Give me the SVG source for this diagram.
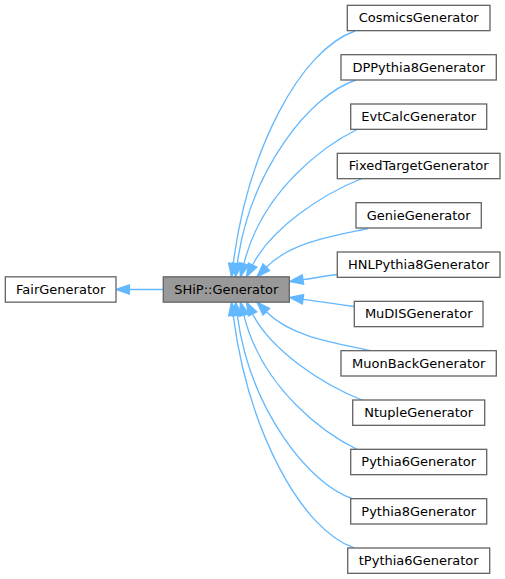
<svg xmlns="http://www.w3.org/2000/svg" width="505" height="579" viewBox="0 0 505 579">
<style>
.n rect{fill:#ffffff;stroke:#666666;stroke-width:1.33}
.n.cur rect{fill:#999999}
.n text{font-family:"DejaVu Sans","Liberation Sans",sans-serif;font-size:13px;fill:#000000;text-anchor:middle}
.e path{fill:none;stroke:#63b8ff;stroke-width:1.33}
.e polygon{fill:#63b8ff;stroke:#63b8ff;stroke-width:1.33}
</style>
<rect width="505" height="579" fill="#ffffff"/>
<g id="connectors" class="e">
<path d="M163.3,289.5 L129.3,289.5"/>
<polygon points="116,289.5 129.3,284.83 129.3,294.17"/>
<path d="M355,31 C300,50 248,150 233.2,263.6"/>
<polygon points="231.5,276.8 237.8,264.2 228.6,263.0"/>
<path d="M356,80 C310,95 250,170 237.3,263.6"/>
<polygon points="235.5,276.8 241.9,264.2 232.7,263.0"/>
<path d="M358,129 C325,145 262,190 243.9,263.9"/>
<polygon points="240.5,276.8 248.4,265.1 239.4,262.7"/>
<path d="M362,178.5 C320,195 270.8,229.4 252.6,265.0"/>
<polygon points="246.5,276.8 256.8,267.1 248.4,262.9"/>
<path d="M368,228.5 C333,236 290.8,242.3 266.3,267.3"/>
<polygon points="257,276.8 269.6,270.6 263.0,264.0"/>
<path d="M337.3,274.5 C325,276 315,278 303,279.6"/>
<polygon points="289.8,281.5 303.6,284.2 302.3,274.9"/>
<path d="M354.3,306.5 C335,304 318,301.5 303,299.3"/>
<polygon points="289.8,297.5 303.6,294.7 302.4,303.9"/>
<path d="M370,350.5 C335,343 290.8,336.7 266.3,311.7"/>
<polygon points="257,302.2 269.6,308.4 263.0,315.0"/>
<path d="M363.3,400.5 C321,384 270.8,349.6 252.6,314.0"/>
<polygon points="246.5,302.2 256.8,311.9 248.4,316.1"/>
<path d="M358.3,450 C325,434 262,389 243.9,315.1"/>
<polygon points="240.5,302.2 248.4,313.9 239.4,316.3"/>
<path d="M353.3,499 C308,484 250,409 237.3,315.4"/>
<polygon points="235.5,302.2 241.9,314.8 232.7,316.0"/>
<path d="M354.3,548 C300,529 248,429 233.2,315.4"/>
<polygon points="231.5,302.2 237.8,314.8 228.6,316.0"/>
</g>
<g id="FairGenerator" class="n"><rect x="5.33" y="276.83" width="110.67" height="25.33"/><text x="60.7" y="293.8">FairGenerator</text></g>
<g id="SHiP_Generator" class="n cur"><rect x="163.3" y="276.83" width="126" height="25.33"/><text x="226.3" y="293.8">SHiP::Generator</text></g>
<g id="CosmicsGenerator" class="n"><rect x="347.3" y="5.33" width="142.7" height="25.33"/><text x="418.7" y="22.3">CosmicsGenerator</text></g>
<g id="DPPythia8Generator" class="n"><rect x="341" y="54.67" width="155.3" height="25.33"/><text x="418.7" y="71.6">DPPythia8Generator</text></g>
<g id="EvtCalcGenerator" class="n"><rect x="350.7" y="104" width="136" height="25.33"/><text x="418.7" y="121">EvtCalcGenerator</text></g>
<g id="FixedTargetGenerator" class="n"><rect x="337.3" y="153.33" width="162.7" height="25.33"/><text x="418.7" y="170.3">FixedTargetGenerator</text></g>
<g id="GenieGenerator" class="n"><rect x="356" y="202.67" width="125.3" height="25.33"/><text x="418.7" y="219.6">GenieGenerator</text></g>
<g id="HNLPythia8Generator" class="n"><rect x="337.3" y="252" width="162.7" height="25.33"/><text x="418.7" y="269">HNLPythia8Generator</text></g>
<g id="MuDISGenerator" class="n"><rect x="354.3" y="301.33" width="128.7" height="25.33"/><text x="418.7" y="318.3">MuDISGenerator</text></g>
<g id="MuonBackGenerator" class="n"><rect x="341" y="350.67" width="155.3" height="25.33"/><text x="418.7" y="367.6">MuonBackGenerator</text></g>
<g id="NtupleGenerator" class="n"><rect x="352.7" y="400" width="132" height="25.33"/><text x="418.7" y="417">NtupleGenerator</text></g>
<g id="Pythia6Generator" class="n"><rect x="350.7" y="449.33" width="136" height="25.33"/><text x="418.7" y="466.3">Pythia6Generator</text></g>
<g id="Pythia8Generator" class="n"><rect x="350.7" y="498.67" width="136" height="25.33"/><text x="418.7" y="515.6">Pythia8Generator</text></g>
<g id="tPythia6Generator" class="n"><rect x="347.7" y="548" width="142" height="25.33"/><text x="418.7" y="565">tPythia6Generator</text></g>
</svg>
